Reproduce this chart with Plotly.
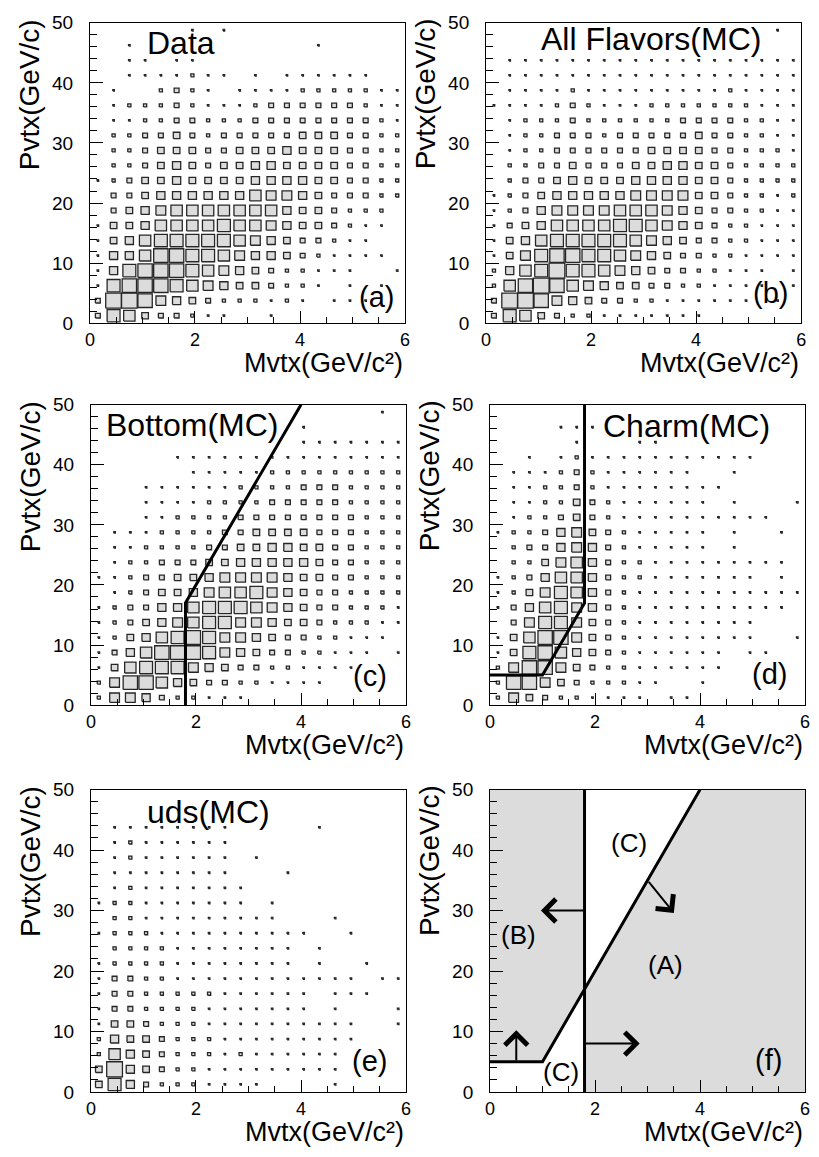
import plotly.graph_objects as go

W, H = 819, 1157
FONT = "Liberation Sans, Arial, sans-serif"

# Bin centres of the 20 x 20 histograms
mvtx_centers = [0.15, 0.45, 0.75, 1.05, 1.35, 1.65, 1.95, 2.25, 2.55, 2.85,
                3.15, 3.45, 3.75, 4.05, 4.35, 4.65, 4.95, 5.25, 5.55, 5.85]
pvtx_centers = [1.25, 3.75, 6.25, 8.75, 11.25, 13.75, 16.25, 18.75, 21.25, 23.75,
                26.25, 28.75, 31.25, 33.75, 36.25, 38.75, 41.25, 43.75, 46.25, 48.75]
mvtx_bin = 0.3
pvtx_bin = 2.5

# Box side (fraction of the bin) for each content level 0-10
level_side = [0.0, 0.10, 0.20, 0.31, 0.42, 0.52, 0.62, 0.72, 0.82, 0.91, 1.0]

# Content level per cell; rows run from Pvtx=48.75 down to 1.25
data_boxes = [
    [0,0,0,0,0,0,1,0,1,0,0,0,0,0,0,0,0,0,0,0],
    [0,0,1,0,0,0,0,0,0,0,0,0,0,0,1,0,0,0,0,0],
    [0,0,1,1,0,1,1,0,0,0,0,0,0,0,0,0,0,0,0,0],
    [0,0,1,1,1,1,2,1,1,0,1,0,1,1,1,1,1,1,0,0],
    [0,1,0,0,2,3,2,1,0,1,1,1,1,2,2,2,2,2,1,1],
    [0,1,2,2,2,3,2,1,1,1,2,3,3,3,3,3,3,2,1,1],
    [0,1,1,2,2,3,3,2,2,2,3,3,3,3,3,3,3,3,2,1],
    [0,2,2,3,3,4,3,2,3,3,3,3,3,4,4,4,3,3,2,2],
    [0,2,2,3,4,4,4,3,3,4,4,4,5,4,4,4,3,3,2,2],
    [0,2,2,3,4,5,4,3,4,4,5,5,4,4,4,4,3,3,2,2],
    [1,2,3,4,4,5,4,4,4,4,5,5,5,5,4,4,3,3,2,2],
    [0,3,3,4,5,5,5,5,5,5,7,6,6,5,4,3,3,3,2,2],
    [0,3,4,5,6,7,7,7,7,7,7,7,5,4,4,3,2,2,2,0],
    [1,4,4,5,7,7,7,7,8,7,7,6,5,4,4,3,2,1,1,0],
    [1,4,5,7,8,8,8,8,8,7,6,5,4,3,3,2,1,1,0,0],
    [1,5,5,7,9,9,8,8,7,6,5,5,4,3,2,1,1,1,1,0],
    [1,5,8,9,9,9,8,7,6,5,4,3,2,2,1,1,1,0,0,1],
    [1,8,9,9,9,8,7,6,5,4,4,3,2,2,1,0,1,0,1,0],
    [3,10,10,9,6,5,4,3,2,2,2,1,2,1,0,1,1,1,0,0],
    [3,8,7,4,3,3,2,1,1,0,0,1,0,0,0,0,0,0,0,0],
]

all_flavors_boxes = [
    [0,0,0,0,0,0,0,0,0,0,0,0,0,0,0,0,0,0,1,0],
    [0,0,0,0,0,0,0,0,0,0,0,0,0,0,0,0,0,0,0,0],
    [0,1,1,1,1,1,1,1,1,1,1,1,1,1,1,1,1,1,1,1],
    [0,1,1,1,1,1,1,1,1,1,1,1,1,1,1,1,1,1,1,1],
    [0,1,1,1,1,2,1,1,1,1,1,1,1,1,1,2,1,1,1,1],
    [1,1,1,1,2,3,2,1,1,1,2,2,2,2,2,2,2,1,1,1],
    [0,1,2,2,2,3,2,2,2,2,2,2,3,3,3,3,2,2,1,1],
    [0,1,2,2,3,3,3,2,3,3,3,3,3,4,3,3,2,2,1,1],
    [0,1,2,2,3,3,3,3,3,3,4,4,4,4,3,3,2,2,2,1],
    [0,2,2,3,3,4,3,3,3,4,4,5,5,4,4,3,2,2,2,2],
    [0,2,3,3,4,5,4,4,4,5,5,5,5,4,4,3,2,2,2,2],
    [1,2,3,4,5,5,5,5,5,6,6,6,6,4,4,3,2,2,1,2],
    [1,2,3,5,6,6,6,6,7,7,7,6,5,4,3,3,2,2,1,1],
    [1,3,4,5,7,7,7,7,8,8,7,6,5,4,3,2,2,1,1,1],
    [1,4,5,7,8,8,8,8,8,7,6,5,4,3,3,2,2,1,1,1],
    [1,4,6,8,9,9,8,8,7,6,5,4,3,3,2,2,1,1,1,1],
    [2,5,7,8,10,8,8,7,6,5,4,3,3,2,2,1,1,1,0,1],
    [2,7,9,10,9,7,6,5,4,4,3,3,2,2,1,1,1,1,0,1],
    [3,10,10,9,6,5,4,3,3,2,2,1,1,1,1,1,1,0,1,0],
    [3,8,7,4,3,2,2,1,1,1,1,1,1,1,0,0,0,0,0,0],
]

bottom_boxes = [
    [0,0,0,0,0,0,0,0,0,0,0,0,0,0,0,0,0,0,1,0],
    [0,0,0,0,0,0,0,0,0,0,0,0,0,1,0,0,0,0,0,0],
    [0,0,0,0,0,0,0,0,0,0,0,0,0,1,1,1,1,1,1,1],
    [0,0,0,0,0,1,1,1,1,1,1,1,1,1,1,1,1,1,1,1],
    [0,0,0,0,0,0,1,1,1,1,1,2,2,2,2,2,2,2,2,2],
    [0,0,0,1,1,1,1,1,1,2,2,2,2,3,3,3,2,2,2,2],
    [0,0,0,1,1,1,1,2,2,2,2,3,3,3,3,3,2,2,2,2],
    [0,0,0,1,1,2,2,2,2,3,3,3,3,3,3,3,3,2,2,2],
    [0,1,1,1,2,2,2,2,3,3,4,4,4,4,3,3,3,2,2,2],
    [0,1,1,2,2,2,2,3,3,4,4,5,5,4,4,3,3,2,2,2],
    [0,1,2,2,3,3,3,4,4,5,5,5,5,5,4,3,3,2,2,2],
    [1,1,2,3,3,4,4,5,6,6,6,6,5,4,4,3,3,2,2,2],
    [0,1,2,3,4,4,5,6,7,7,8,6,5,4,3,3,2,2,2,2],
    [1,2,3,3,5,5,7,8,8,8,7,6,5,4,3,3,2,2,2,1],
    [1,2,3,4,5,6,7,8,8,6,6,5,4,4,3,2,2,2,1,1],
    [1,2,4,5,7,8,9,8,6,6,5,4,3,3,2,2,1,1,1,0],
    [1,3,5,7,9,9,9,8,6,5,4,3,3,2,2,1,1,1,0,1],
    [1,4,7,8,8,8,6,5,4,3,3,2,2,1,1,1,1,0,0,0],
    [2,6,9,9,7,5,4,3,3,2,2,1,1,1,1,0,0,0,0,0],
    [2,6,6,5,3,2,2,1,1,1,0,0,0,0,0,0,0,0,0,0],
]

charm_boxes = [
    [0,0,0,0,0,0,0,0,0,0,0,0,0,0,0,0,0,0,0,0],
    [0,0,0,0,1,1,1,0,0,0,0,0,0,0,0,0,0,0,0,0],
    [0,0,0,0,0,1,0,0,0,1,1,0,0,0,0,0,0,0,0,0],
    [0,0,1,0,1,2,1,1,1,1,1,1,1,1,1,1,1,0,0,0],
    [0,1,1,1,2,3,2,1,1,1,1,1,1,0,0,1,0,0,0,0],
    [0,1,1,2,2,3,2,1,1,1,1,1,1,1,1,0,0,0,0,0],
    [0,1,1,2,2,4,3,2,1,1,1,1,1,1,0,1,0,0,0,1],
    [0,1,2,2,3,4,3,2,1,1,1,1,1,1,1,1,1,1,0,0],
    [1,2,2,3,5,6,4,3,2,1,1,1,1,1,0,1,0,0,1,0],
    [0,2,3,3,5,6,5,3,2,1,1,1,1,1,0,1,0,0,0,0],
    [0,2,2,4,6,7,5,3,2,2,1,1,1,1,1,1,1,1,1,0],
    [1,2,3,5,7,7,5,3,2,2,1,1,1,1,1,1,1,0,1,0],
    [1,2,4,6,8,7,5,3,2,1,1,1,1,1,1,1,1,1,1,1],
    [1,3,5,7,8,6,5,3,2,1,1,1,1,1,1,1,1,1,1,0],
    [0,3,6,8,8,6,4,3,2,1,1,1,1,1,1,1,1,0,0,0],
    [1,4,7,9,9,6,4,3,2,1,1,1,1,1,1,1,1,0,0,1],
    [1,4,8,9,7,5,4,3,2,1,1,1,1,1,1,0,1,1,0,0],
    [2,6,9,9,6,4,3,2,2,1,1,1,1,1,1,0,0,0,0,0],
    [2,9,9,6,4,3,2,2,2,1,1,0,0,1,0,0,0,0,0,0],
    [2,6,4,3,2,2,1,1,1,1,0,1,1,0,0,0,0,0,0,0],
]

uds_boxes = [
    [0,0,0,0,0,0,0,0,0,0,0,0,0,0,0,0,0,0,0,0],
    [0,0,0,0,0,0,0,0,0,0,0,0,0,0,0,0,0,0,0,0],
    [0,1,1,1,1,1,1,1,1,0,0,0,0,0,1,0,0,0,0,0],
    [0,1,2,1,1,1,1,1,1,0,0,0,0,0,0,0,0,0,0,0],
    [0,1,2,1,1,1,1,1,1,0,1,0,0,0,0,0,0,0,0,0],
    [0,1,1,1,1,1,1,1,1,0,0,0,1,0,0,0,0,0,0,0],
    [0,1,2,1,1,1,1,1,1,1,0,0,0,0,0,0,0,0,0,0],
    [1,2,2,1,1,1,1,1,1,1,0,1,0,0,0,0,0,0,0,0],
    [0,2,2,1,1,1,1,1,1,1,1,1,0,0,0,1,0,0,0,0],
    [1,2,2,2,1,1,1,1,1,1,1,1,1,1,0,0,1,0,0,0],
    [0,2,2,2,2,1,1,1,1,1,1,1,1,0,1,0,0,0,0,0],
    [1,2,2,2,2,1,1,1,1,1,1,1,1,0,1,0,0,1,0,0],
    [1,3,3,2,2,1,1,1,1,1,1,1,1,1,1,1,1,0,1,1],
    [1,3,3,2,2,2,2,2,1,1,1,1,1,1,0,1,1,1,0,0],
    [1,3,3,2,2,2,2,1,1,1,1,1,1,1,0,1,0,0,0,1],
    [1,4,4,3,2,2,2,1,1,1,1,1,1,1,1,1,1,0,0,1],
    [2,5,4,4,3,2,2,2,1,1,1,1,1,1,1,1,1,0,0,0],
    [2,7,5,4,3,2,2,2,1,2,1,1,1,1,1,1,0,0,0,0],
    [4,10,5,4,3,2,2,1,1,1,1,1,1,1,1,1,0,0,0,0],
    [4,8,5,3,2,2,2,1,1,1,1,0,0,0,0,1,0,0,0,0],
]

# Selection cuts in the (Mvtx, Pvtx) plane
cut_m = [0.0, 1.0, 1.8, 4.0]
cut_p = [5.0, 5.0, 17.0, 50.0]
mass_cut = 1.8
x_max, p_max = 6.0, 50.0

# Panel frames in pixels: (left, right, top, bottom)
frames = {
    1: (86, 405, 13, 319),
    2: (487, 806, 13, 319),
    3: (87, 406, 402, 708),
    4: (491, 810, 402, 708),
    5: (87, 406, 794, 1102),
    6: (491, 810, 794, 1102),
}
XTITLE_DROP = 40

panel_titles = {
    1: ("Data", 1.05, 46.7),
    2: ("All Flavors(MC)", 1.0, 47.3),
    3: ("Bottom(MC)", 0.24, 46.7),
    4: ("Charm(MC)", 2.12, 46.5),
    5: ("uds(MC)", 1.02, 46.3),
}
panel_tags = {
    1: ("(a)", 5.46, 4.4),
    2: ("(b)", 5.42, 5.1),
    3: ("(c)", 5.31, 4.9),
    4: ("(d)", 5.32, 5.2),
    5: ("(e)", 5.31, 5.1),
    6: ("(f)", 5.31, 5.25),
}

BOX_FILL = "#dcdcdc"
BOX_LINE = "#262626"

fig = go.Figure()


def box_trace(levels, n):
    xs, ys = [], []
    for r, row in enumerate(levels):
        yc = pvtx_centers[len(levels) - 1 - r]
        for c, v in enumerate(row):
            if v <= 0:
                continue
            xc = mvtx_centers[c]
            side = level_side[v]
            hw = 0.5 * mvtx_bin * side
            hh = 0.5 * pvtx_bin * side
            xs += [xc - hw, xc + hw, xc + hw, xc - hw, xc - hw, None]
            ys += [yc - hh, yc - hh, yc + hh, yc + hh, yc - hh, None]
    ax = "" if n == 1 else str(n)
    return go.Scatter(x=xs, y=ys, mode="lines", fill="toself",
                      fillcolor=BOX_FILL, line=dict(color=BOX_LINE, width=1.3),
                      xaxis="x" + ax, yaxis="y" + ax, hoverinfo="skip",
                      showlegend=False)


def cut_line(xs, ys, n):
    ax = "" if n == 1 else str(n)
    return go.Scatter(x=xs, y=ys, mode="lines",
                      line=dict(color="black", width=3),
                      xaxis="x" + ax, yaxis="y" + ax, hoverinfo="skip",
                      showlegend=False)


for n, levels in zip([1, 2, 3, 4, 5],
                     [data_boxes, all_flavors_boxes, bottom_boxes,
                      charm_boxes, uds_boxes]):
    fig.add_trace(box_trace(levels, n))

# Bottom-tagging cut: Mvtx > 1.8 and above the diagonal
fig.add_trace(cut_line([mass_cut, mass_cut] + cut_m[3:], [0, cut_p[2]] + cut_p[3:], 3))
# Charm-tagging cut: Mvtx < 1.8 and above the low-mass boundary
fig.add_trace(cut_line(cut_m[:3] + [mass_cut], cut_p[:3] + [p_max], 4))

# Panel (f): regions A and B shaded
fig.add_trace(go.Scatter(
    x=cut_m[:3] + [mass_cut, 0, cut_m[0]],
    y=cut_p[:3] + [p_max, p_max, cut_p[0]],
    mode="lines", fill="toself", fillcolor=BOX_FILL, line=dict(width=0),
    xaxis="x6", yaxis="y6", hoverinfo="skip", showlegend=False))
fig.add_trace(go.Scatter(
    x=[mass_cut, mass_cut, cut_m[3], x_max, x_max, mass_cut],
    y=[0, cut_p[2], cut_p[3], p_max, 0, 0],
    mode="lines", fill="toself", fillcolor=BOX_FILL, line=dict(width=0),
    xaxis="x6", yaxis="y6", hoverinfo="skip", showlegend=False))
fig.add_trace(cut_line(cut_m, cut_p, 6))
fig.add_trace(cut_line([mass_cut, mass_cut], [0, p_max], 6))

layout = dict(
    width=W, height=H,
    margin=dict(l=0, r=0, t=0, b=0),
    paper_bgcolor="white", plot_bgcolor="white",
    showlegend=False,
    font=dict(family=FONT, color="black"),
)

annotations = []
for n, (l, r, t, b) in frames.items():
    ax = "" if n == 1 else str(n)
    layout["xaxis" + ax] = dict(
        domain=[l / W, r / W], anchor="y" + ax, range=[0, x_max],
        showline=True, linecolor="black", linewidth=1, mirror=True,
        showgrid=False, zeroline=False,
        ticks="inside", ticklen=12, tickwidth=1, tickcolor="black",
        tickvals=[0, 2, 4, 6], ticktext=["0", "2", "4", "6"],
        tickfont=dict(family=FONT, size=18, color="black"),
        ticklabelstandoff=0,
        minor=dict(tick0=0, dtick=0.5, ticks="inside", ticklen=6,
                   tickcolor="black", tickwidth=1, showgrid=False),
    )
    layout["yaxis" + ax] = dict(
        domain=[1 - b / H, 1 - t / H], anchor="x" + ax, range=[0, p_max],
        showline=True, linecolor="black", linewidth=1, mirror=True,
        showgrid=False, zeroline=False,
        ticks="inside", ticklen=13, tickwidth=1, tickcolor="black",
        tickvals=[0, 10, 20, 30, 40, 50],
        tickfont=dict(family=FONT, size=19, color="black"),
        ticklabelstandoff=12,
        minor=dict(tick0=0, dtick=2, ticks="inside", ticklen=7,
                   tickcolor="black", tickwidth=1, showgrid=False),
    )
    # axis titles
    annotations.append(dict(
        text="Mvtx(GeV/c²)", xref="x" + ax + " domain",
        yref="y" + ax + " domain", x=1.0, y=0, xanchor="right",
        yanchor="middle", yshift=-XTITLE_DROP, showarrow=False,
        font=dict(family=FONT, size=27, color="black")))
    annotations.append(dict(
        text="Pvtx(GeV/c)", xref="x" + ax + " domain",
        yref="y" + ax + " domain", x=0, y=1, xanchor="center",
        yanchor="top", xshift=-61, yshift=6, textangle=-90,
        showarrow=False, font=dict(family=FONT, size=28, color="black")))
    if n in panel_titles:
        txt, tx, ty = panel_titles[n]
        annotations.append(dict(
            text=txt, xref="x" + ax, yref="y" + ax, x=tx, y=ty,
            xanchor="left", yanchor="middle", showarrow=False,
            font=dict(family=FONT, size=32, color="black")))
    tag, gx, gy = panel_tags[n]
    annotations.append(dict(
        text=tag, xref="x" + ax, yref="y" + ax, x=gx, y=gy,
        xanchor="center", yanchor="middle", showarrow=False,
        font=dict(family=FONT, size=29, color="black")))

# Region labels in panel (f)
region_labels = [("(C)", 2.65, 41.2), ("(B)", 0.55, 26.0),
                 ("(A)", 3.35, 21.0), ("(C)", 1.36, 3.3)]
for txt, lx, ly in region_labels:
    annotations.append(dict(
        text=txt, xref="x6", yref="y6", x=lx, y=ly, showarrow=False,
        xanchor="center", yanchor="middle",
        font=dict(family=FONT, size=26, color="black")))

# Arrows pointing into the selected regions: (tail, head)
region_arrows = [((0.5, 5.0), (0.5, 10.2)),
                 ((mass_cut, 30.0), (0.97, 30.0)),
                 ((mass_cut, 8.0), (2.85, 8.0)),
                 ((3.0, 35.0), (3.5, 29.6))]
for (x0, y0), (x1, y1) in region_arrows:
    annotations.append(dict(
        x=x1, y=y1, ax=x0, ay=y0, xref="x6", yref="y6",
        axref="x6", ayref="y6", showarrow=True, arrowhead=4,
        arrowsize=2.2, arrowwidth=2, arrowcolor="black", text=""))

layout["annotations"] = annotations
fig.update_layout(**layout)

fig.write_html("out.html")
